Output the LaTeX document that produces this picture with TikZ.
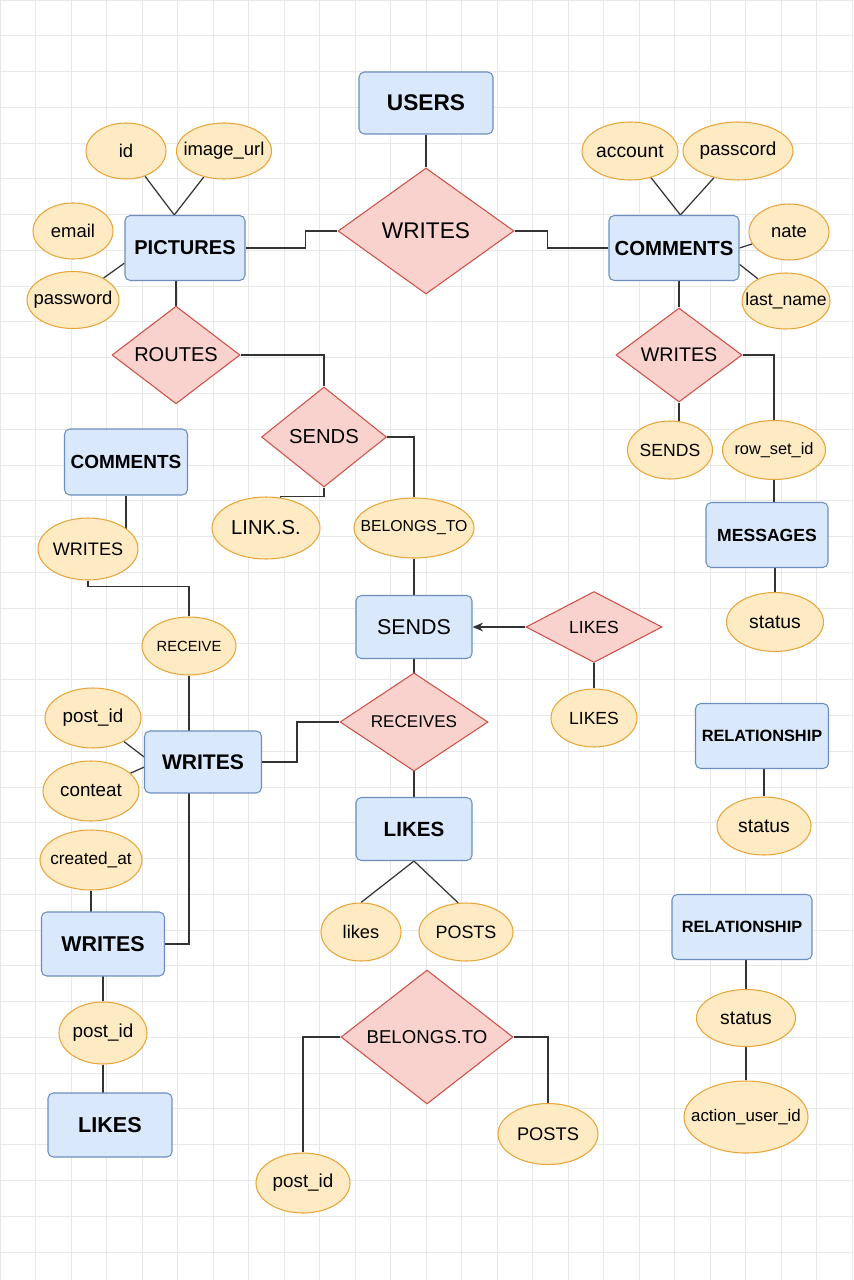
\documentclass[tikz,border=0pt]{standalone}
\usepackage{fontspec}
\setmainfont{Liberation Sans}
\usetikzlibrary{shapes.geometric,arrows.meta}
\pgfdeclarelayer{grid}
\pgfdeclarelayer{edges}
\pgfsetlayers{grid,edges,main}
\definecolor{entF}{HTML}{DAE8FC}
\definecolor{entB}{HTML}{6C8EBF}
\definecolor{relF}{HTML}{F9D2CE}
\definecolor{relB}{HTML}{CC5048}
\definecolor{attF}{HTML}{FEEBC4}
\definecolor{attB}{HTML}{E7A53A}
\definecolor{lineC}{HTML}{333333}
\definecolor{gridC}{HTML}{E8E8E8}
\tikzset{
	ent/.style={draw=entB,fill=entF,rounded corners=3pt,line width=0.6pt,inner sep=0pt,font=\bfseries\fontsize{#1}{#1}\selectfont},
	ent/.default=11.5,
	rel/.style={diamond,draw=relB,fill=relF,line width=0.6pt,inner sep=0pt,font=\fontsize{#1}{#1}\selectfont},
	rel/.default=11.4,
	att/.style={ellipse,draw=attB,fill=attF,line width=0.6pt,inner sep=0pt,font=\fontsize{#1}{#1}\selectfont,
		execute at begin node={\hbox to 0pt\bgroup\hss},execute at end node={\hss\egroup}},
	att/.default=10.5,
	sz/.style 2 args={minimum width=#1*0.02cm,minimum height=#2*0.02cm},
	conn/.style={draw=lineC,line width=0.7pt},
	gridline/.style={draw=gridC,line width=0.5pt}
}
\begin{document}
\begin{tikzpicture}[x=0.02cm,y=-0.02cm]
	\useasboundingbox (0,0) rectangle (853,1280);
	\begin{pgfonlayer}{grid}
		\fill[white] (0,0) rectangle (853,1280);
		\foreach \i in {0,...,24} \draw[gridline] (35.5*\i,0) -- (35.5*\i,1280);
		\foreach \j in {0,...,35} \draw[gridline] (0,35.77*\j) -- (853,35.77*\j);
	\end{pgfonlayer}

	\node[ent=12.9,sz={134}{62}] (users) at (426,103) {USERS};
	\node[rel=12.9,sz={176}{126}] (wr1) at (426,231) {WRITES};
	\node[ent=11.4,sz={120}{65}] (pic) at (185,248) {PICTURES};
	\node[att,sz={80}{56}] (id) at (126,151) {id};
	\node[att,sz={95}{56}] (iu) at (224,151) {image\_url};
	\node[att,sz={80}{56}] (em) at (73,231) {email};
	\node[att,sz={92}{57}] (pw) at (73,300) {password};
	\node[ent=11.6,sz={130}{65}] (com1) at (674,248) {COMMENTS};
	\node[att=11,sz={96}{58}] (acc) at (630,151) {account};
	\node[att=10.8,sz={110}{58}] (pc) at (738,151) {passcord};
	\node[att,sz={80}{56}] (nate) at (789,232) {nate};
	\node[att=10,sz={88}{56}] (ln) at (786,301) {last\_name};
	\node[rel,sz={128}{96}] (rt) at (176,355) {ROUTES};
	\node[rel=11.2,sz={126}{94}] (wr2) at (679,355) {WRITES};
	\node[rel=11.5,sz={125}{100}] (sd1) at (324,437) {SENDS};
	\node[att=11.5,sz={108}{62}] (lnk) at (266,528) {LINK.S.};
	\node[att=9,sz={120}{60}] (bel) at (414,528) {BELONGS\_TO};
	\node[att=10,sz={85}{58}] (snd) at (670,450) {SENDS};
	\node[att=9.3,sz={103}{59}] (rsi) at (774,450) {row\_set\_id};
	\node[ent=10,sz={122}{65}] (msg) at (767,535) {MESSAGES};
	\node[att=11,sz={97}{59}] (st1) at (775,622) {status};
	\node[ent=10.8,sz={123}{66}] (com2) at (126,462) {COMMENTS};
	\node[att=10.3,sz={100}{62}] (wrA) at (88,549) {WRITES};
	\node[att=8.4,sz={94}{58}] (rcv) at (189,646) {RECEIVE};
	\node[ent,sz={116}{63},font=\fontsize{12.2}{12.2}\selectfont] (sd2) at (414,627) {SENDS};
	\node[rel=10,sz={136}{71}] (lk1) at (594,627) {LIKES};
	\node[att=10,sz={86}{58}] (lk2) at (594,718) {LIKES};
	\node[rel=9.7,sz={148}{82}] (rcvs) at (414,722) {RECEIVES};
	\node[ent=11.7,sz={116}{63}] (lik2) at (414,829) {LIKES};
	\node[att=10.4,sz={80}{58}] (lks) at (361,932) {likes};
	\node[att=10.2,sz={94}{58}] (pst) at (466,932) {POSTS};
	\node[ent=12,sz={117}{62}] (wrB) at (203,762) {WRITES};
	\node[att=10.7,sz={96}{60}] (pid1) at (93,718) {post\_id};
	\node[att=10.7,sz={96}{60}] (ct) at (91,791) {conteat};
	\node[att=9.8,sz={102}{60}] (cre) at (91,860) {created\_at};
	\node[ent=12.2,sz={123}{64}] (wrC) at (103,944) {WRITES};
	\node[att=10.7,sz={88}{62}] (pid2) at (103,1033) {post\_id};
	\node[ent=12.3,sz={124}{64}] (likC) at (110,1125) {LIKES};
	\node[rel=10.6,sz={172}{125}] (bt) at (427,1037) {BELONGS.TO};
	\node[att=10.7,sz={94}{60}] (pid3) at (303,1183) {post\_id};
	\node[att=10.4,sz={100}{61}] (pst2) at (548,1134) {POSTS};
	\node[ent=9.3,sz={133}{65}] (rel1) at (762,736) {RELATIONSHIP};
	\node[att=11,sz={94}{58}] (st2) at (764,826) {status};
	\node[ent=9.3,sz={140}{65}] (rel2) at (742,927) {RELATIONSHIP};
	\node[att=11,sz={99}{57}] (st3) at (746,1018) {status};
	\node[att=9.6,sz={124}{72}] (aui) at (746,1117) {action\_user\_id};

	\begin{pgfonlayer}{edges}
		\draw[conn] (users) -- (wr1);
		\draw[conn] (pic.east) -- ++(60,0) |- (wr1.west);
		\draw[conn] (wr1.east) -- ++(33,0) |- (com1.west);
		\draw[conn] (id) -- (pic.108);
		\draw[conn] (iu) -- (pic.108);
		\draw[conn] (pw) -- (pic.194);
		\draw[conn] (acc) -- (com1.79);
		\draw[conn] (pc) -- (com1.79);
		\draw[conn] (nate) -- (com1.east);
		\draw[conn] (ln) -- (com1.-14);
		\draw[conn] (rt) -- (rt |- pic.center);
		\draw[conn] (rt.east) -| (sd1.north);
		\draw[conn] (sd1.east) -| (bel.north);
		\draw[conn] (sd1.south) -- ++(0,9) -| (lnk.65);
		\draw[conn] (bel) -- (bel |- sd2.center);
		\draw[conn,-{Stealth[length=6pt,width=5pt]}] (lk1.west) -- (sd2.east);
		\draw[conn] (lk1) -- (lk2);
		\draw[conn] (sd2) -- (lik2);
		\draw[conn] (lik2.south) -- (lks.north);
		\draw[conn] (lik2.south) -- (pst.105);
		\draw[conn] (bt.west) -| (pid3);
		\draw[conn] (bt.east) -| (pst2);
		\draw[conn] (com2) -- (com2 |- wrA.center);
		\draw[conn] (wrA.south) -- ++(0,6) -| (rcv.north);
		\draw[conn] (rcv) |- (wrC.east);
		\draw[conn] (wrB.east) -- ++(35,0) |- (rcvs.west);
		\draw[conn] (pid1) -- (wrB.175);
		\draw[conn] (ct) -- (wrB.185);
		\draw[conn] (cre) -- (cre |- wrC.center);
		\draw[conn] (pid2) -- (pid2 |- wrC.center);
		\draw[conn] (pid2) -- (pid2 |- likC.center);
		\draw[conn] (wr2) -- (wr2 |- com1.center);
		\draw[conn] (wr2.east) -| (rsi);
		\draw[conn] (wr2) -- (wr2 |- snd.center);
		\draw[conn] (rsi) -- (rsi |- msg.center);
		\draw[conn] (st1) -- (st1 |- msg.center);
		\draw[conn] (st2) -- (st2 |- rel1.center);
		\draw[conn] (st3) -- (st3 |- rel2.center);
		\draw[conn] (st3) -- (aui);
	\end{pgfonlayer}
\end{tikzpicture}
\end{document}
